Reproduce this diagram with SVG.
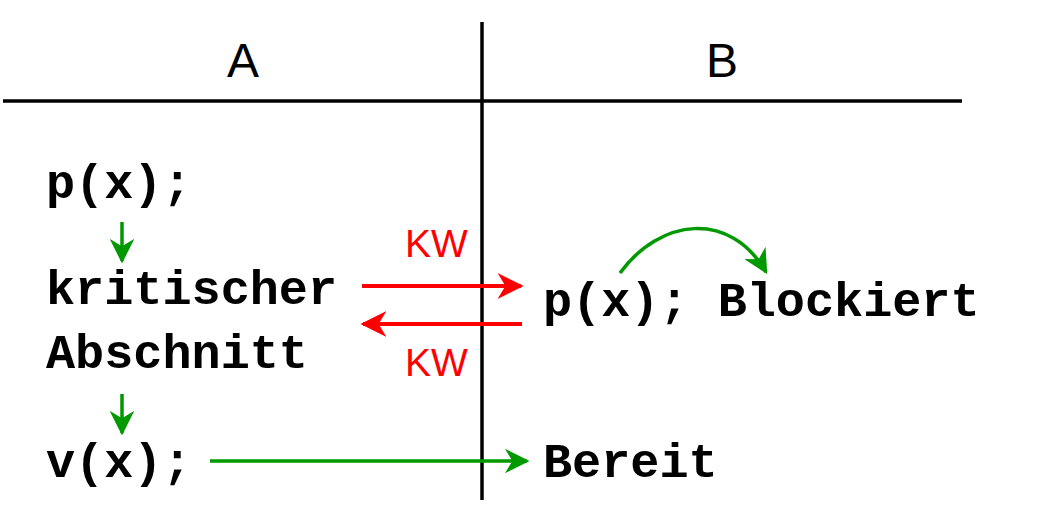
<svg xmlns="http://www.w3.org/2000/svg" width="1064" height="524" viewBox="0 0 1064 524">
<style>
.code{font-family:"Liberation Mono","Courier New",monospace;font-weight:bold;font-size:48.5px;fill:#000}
.hdr{font-family:"Liberation Sans",Arial,sans-serif;font-size:48px;fill:#000}
.kw{font-family:"Liberation Sans",Arial,sans-serif;font-size:39px;fill:#ff0000}
.g{stroke:#009900;stroke-width:3.5;fill:none}
.r{stroke:#ff0000;stroke-width:4;fill:none}
</style>
<defs>
<marker id="ag" viewBox="0 0 10 10" refX="9" refY="5" markerWidth="7" markerHeight="7" markerUnits="strokeWidth" orient="auto"><path d="M0,0 L10,5 L0,10 L3,5 Z" fill="#009900"/></marker>
<marker id="ar" viewBox="0 0 10 10" refX="9" refY="5" markerWidth="6.5" markerHeight="6.5" markerUnits="strokeWidth" orient="auto"><path d="M0,0 L10,5 L0,10 L3,5 Z" fill="#ff0000"/></marker>
</defs>
<g id="grid">
<line x1="482" y1="22" x2="482" y2="500" stroke="#000" stroke-width="3.5"/>
<line x1="3" y1="101" x2="962" y2="101" stroke="#000" stroke-width="3.5"/>
</g>
<g id="headerA"><text class="hdr" x="243" y="77" text-anchor="middle">A</text></g>
<g id="headerB"><text class="hdr" x="722" y="77" text-anchor="middle">B</text></g>
<g id="px"><text class="code" x="46" y="198">p(x);</text></g>
<g id="crit"><text class="code" x="46" y="304">kritischer</text><text class="code" x="46" y="368">Abschnitt</text></g>
<g id="vx"><text class="code" x="46" y="477">v(x);</text></g>
<g id="pxb"><text class="code" x="543" y="316">p(x); Blockiert</text></g>
<g id="bereit"><text class="code" x="543" y="477">Bereit</text></g>
<g id="kw1"><text class="kw" x="405" y="257">KW</text></g>
<g id="kw2"><text class="kw" x="405" y="376">KW</text></g>
<g id="connectors">
<line class="g" x1="122" y1="222" x2="122" y2="261" marker-end="url(#ag)"/>
<line class="g" x1="122" y1="394" x2="122" y2="433" marker-end="url(#ag)"/>
<line class="g" x1="210" y1="461" x2="527" y2="461" marker-end="url(#ag)"/>
<path class="g" d="M620,273 C660,218 730,210 766,272" marker-end="url(#ag)"/>
<line class="r" x1="362" y1="286" x2="521" y2="286" marker-end="url(#ar)"/>
<line class="r" x1="522" y1="324" x2="363" y2="324" marker-end="url(#ar)"/>
</g>
</svg>
